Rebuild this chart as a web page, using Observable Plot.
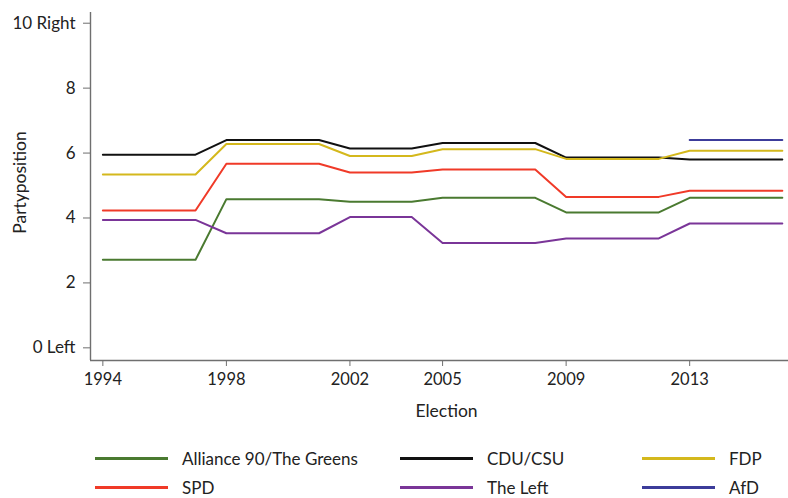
<!DOCTYPE html>
<html><head><meta charset="utf-8">
<script src="https://cdn.jsdelivr.net/npm/d3@7"></script>
<script src="https://cdn.jsdelivr.net/npm/@observablehq/plot@0.6"></script>
<style>
body{margin:0;background:#fff;font-family:Lato,sans-serif;color:#222}
#legend{position:relative;width:788px;height:73px}
.item{position:absolute;display:flex;align-items:center;font-size:17px;height:20px;white-space:nowrap}
.swatch{width:73px;height:0;border-top:3px solid;margin-right:14px}
</style></head><body><div id="chart"></div><div id="legend"></div>
<script>
// Data
const parties = ["Alliance 90/The Greens", "CDU/CSU", "FDP", "SPD", "The Left", "AfD"];
const partyColors = ["#4a7a30", "#111111", "#d4b81c", "#f03a28", "#7a3598", "#3c3c9a"];
const electionYears = [1994, 1998, 2002, 2005, 2009, 2013];
const vertexYears = [1994, 1997, 1998, 2001, 2002, 2004, 2005, 2008, 2009, 2012, 2013, 2016];
const greens = [2.71, 2.71, 4.58, 4.58, 4.50, 4.50, 4.62, 4.62, 4.17, 4.17, 4.62, 4.62];
const cdu    = [5.95, 5.95, 6.40, 6.40, 6.14, 6.14, 6.31, 6.31, 5.86, 5.86, 5.80, 5.80];
const fdp    = [5.34, 5.34, 6.28, 6.28, 5.91, 5.91, 6.12, 6.12, 5.82, 5.82, 6.07, 6.07];
const spd    = [4.23, 4.23, 5.67, 5.67, 5.40, 5.40, 5.49, 5.49, 4.65, 4.65, 4.84, 4.84];
const left   = [3.94, 3.94, 3.53, 3.53, 4.03, 4.03, 3.23, 3.23, 3.37, 3.37, 3.83, 3.83];
const afd    = [null, null, null, null, null, null, null, null, null, null, 6.40, 6.40];
const yTicks = [0, 2, 4, 6, 8, 10];
const yTickLabels = ["0 Left", "2", "4", "6", "8", "10 Right"];
const xTitle = "Election";
const yTitle = "Partyposition";

const seriesValues = [greens, cdu, fdp, spd, left, afd];
const rows = [];
parties.forEach((p, i) => {
  seriesValues[i].forEach((v, j) => {
    if (v != null) rows.push({party: p, year: vertexYears[j], value: v});
  });
});
const yLabelMap = new Map(yTicks.map((t, i) => [t, yTickLabels[i]]));

const xDomain = [1993.6, 2016.2];
const yDomain = [-0.39, 10.33];
const axisColor = "#6f6f6f";

const chart = Plot.plot({
  width: 788,
  height: 425,
  marginTop: 12,
  marginBottom: 65,
  marginLeft: 90,
  marginRight: 0,
  style: {fontFamily: "Lato, sans-serif", fontSize: "17px", color: "#222", background: "#fff"},
  x: {domain: xDomain},
  y: {domain: yDomain},
  color: {domain: parties, range: partyColors},
  marks: [
    Plot.ruleX([xDomain[0]], {stroke: axisColor, strokeWidth: 1.4}),
    Plot.ruleY([yDomain[0]], {stroke: axisColor, strokeWidth: 1.4}),
    Plot.axisY(yTicks, {tickSize: 7, tickPadding: 8, stroke: axisColor, fill: "#222", fontSize: 17,
      tickFormat: d => yLabelMap.get(d), label: null}),
    Plot.axisX(electionYears, {tickSize: 6, tickPadding: 7, stroke: axisColor, fill: "#222", fontSize: 16.5,
      tickFormat: d => String(d), label: null}),
    Plot.text([xTitle], {frameAnchor: "bottom", textAnchor: "middle", lineAnchor: "middle", dx: 7, dy: 51, fontSize: 17.5, fill: "#222"}),
    Plot.text([yTitle], {frameAnchor: "left", textAnchor: "middle", lineAnchor: "middle", rotate: -90, dx: -70, dy: -4, fontSize: 17.5, fill: "#222"}),
    Plot.lineY(rows, {x: "year", y: "value", stroke: "party", z: "party", strokeWidth: 2})
  ]
});
document.getElementById("chart").appendChild(chart);

// Legend
const legendCols = [[0, 3], [1, 4], [2, 5]];
const colLeft = [95, 400, 642];
const rowTop = [23, 52];
const legend = document.getElementById("legend");
legendCols.forEach((col, c) => {
  col.forEach((pi, r) => {
    const item = document.createElement("div");
    item.className = "item";
    item.style.left = colLeft[c] + "px";
    item.style.top = rowTop[r] + "px";
    const sw = document.createElement("span");
    sw.className = "swatch";
    sw.style.borderTopColor = partyColors[pi];
    const tx = document.createElement("span");
    tx.textContent = parties[pi];
    item.appendChild(sw);
    item.appendChild(tx);
    legend.appendChild(item);
  });
});
</script>
</body></html>
